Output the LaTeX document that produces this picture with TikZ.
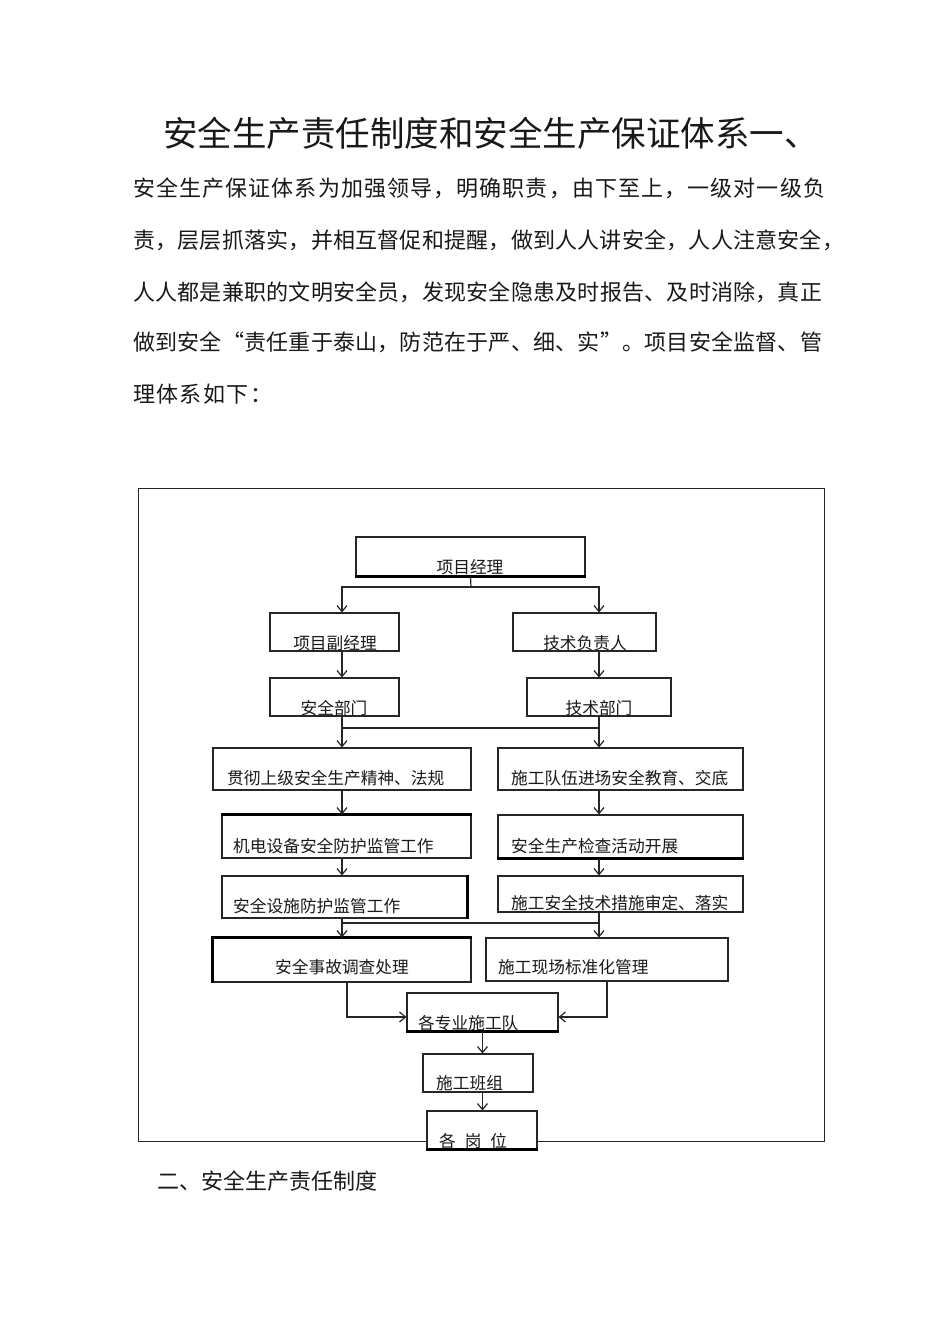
\documentclass[tikz,border=0pt]{standalone}
\usepackage{fontspec}
\setmainfont{Noto Sans CJK SC}
\usetikzlibrary{arrows.meta,calc}
\def\spr#1{\ifx#1\relax\else#1\hfil\expandafter\spr\fi}
\newcommand\bxnode[6][]{\node[box,#1,minimum width={(#5-#3)*1pt},minimum height={(#6-#4)*1pt}] (#2) at ({(#3+#5)/2},{(#4+#6)/2}) {};}
\begin{document}
\begin{tikzpicture}[x=1pt,y=-1pt,
 box/.style={draw=black!85,line width=1.1pt,fill=white,inner sep=0pt},
 lbl/.style={inner sep=0pt,font=\fontsize{16.7}{18}\selectfont,text=black!90},
 body/.style={inner sep=0pt,anchor=west,font=\fontsize{22}{26}\selectfont,text=black!90},
 arr/.style={draw=black!85,line width=1.2pt,-{Straight Barb[length=6pt,width=10pt]}},
 ln/.style={draw=black!85,line width=1.2pt},
 thickside/.style={draw=black,line width=2.2pt}]
\useasboundingbox[fill=white] (0,0) rectangle (950,1344);

% title and paragraph
\node[body,font=\fontsize{34.5}{40}\selectfont] (title) at (163,133) {安全生产责任制度和安全生产保证体系一、};
\node[body] (p1) at (133,188) {\hbox to 692pt{\spr 安全生产保证体系为加强领导，明确职责，由下至上，一级对一级负\relax\unskip}};
\node[body] (p2) at (133,240) {\hbox to 711pt{\spr 责，层层抓落实，并相互督促和提醒，做到人人讲安全，人人注意安全，\relax\unskip}};
\node[body] (p3) at (133,292) {\hbox to 689pt{\spr 人人都是兼职的文明安全员，发现安全隐患及时报告、及时消除，真正\relax\unskip}};
\node[body] (p4) at (133,342) {\hbox to 689pt{\spr 做到安全“责任重于泰山，防范在于严、细、实”。项目安全监督、管\relax\unskip}};
\node[body] (p5) at (133,394) {\hbox to 139pt{\spr 理体系如下：\relax\unskip}};
\node[body] (sec2) at (157,1181) {二、安全生产责任制度};

% frame
\bxnode[fill=none,line width=0.9pt]{frame}{138}{488}{824}{1141}

% boxes
\bxnode{pm}{356}{537}{585}{576}
\bxnode{dpm}{270}{613}{399}{651}
\bxnode{tl}{513}{613}{656}{651}
\bxnode{sd}{270}{678}{399}{716}
\bxnode{td}{527}{678}{671}{716}
\bxnode{L3}{213}{748}{471}{790}
\bxnode{R3}{498}{748}{743}{790}
\bxnode{L4}{222}{815}{471}{858}
\bxnode{R4}{498}{815}{743}{858}
\bxnode{L5}{222}{876}{467}{918}
\bxnode{R5}{498}{876}{743}{912}
\bxnode{L6}{213}{938}{471}{982}
\bxnode{R6}{486}{938}{728}{981}
\bxnode{T}{407}{993}{558}{1031}
\bxnode{G}{423}{1054}{533}{1092}
\bxnode{P}{427}{1111}{537}{1149}

% thicker sides
\draw[thickside] (pm.south west) -- (pm.south east);
\draw[thickside] (L4.north west) -- (L4.north east);
\draw[thickside] (R4.south west) -- (R4.south east);
\draw[thickside] (L5.north east) -- (L5.south east);
\draw[thickside] (L6.south west) -- (L6.north west) -- (L6.north east);
\draw[thickside] (T.south west) -- (T.south east);
\draw[thickside] (P.south west) -- (P.south east);

% labels
\node[lbl] (tpm) at (470,567) {项目经理};
\node[lbl] (tdpm) at (335,643) {项目副经理};
\node[lbl] (ttl) at (585,643) {技术负责人};
\node[lbl] (tsd) at (334,708) {安全部门};
\node[lbl] (ttd) at (599,708) {技术部门};
\node[lbl,anchor=west] (tL3) at (227,778) {贯彻上级安全生产精神、法规};
\node[lbl,anchor=west] (tR3) at (511,778) {施工队伍进场安全教育、交底};
\node[lbl,anchor=west] (tL4) at (233,846) {机电设备安全防护监管工作};
\node[lbl,anchor=west] (tR4) at (511,846) {安全生产检查活动开展};
\node[lbl,anchor=west] (tL5) at (233,906) {安全设施防护监管工作};
\node[lbl,anchor=west] (tR5) at (511,903) {施工安全技术措施审定、落实};
\node[lbl] (tL6) at (342,967) {安全事故调查处理};
\node[lbl,anchor=west] (tR6) at (498,967) {施工现场标准化管理};
\node[lbl,anchor=west] (tT) at (418,1023) {各专业施工队};
\node[lbl,anchor=west] (tG) at (436,1083) {施工班组};
\node[lbl,anchor=west] (tP) at (439,1141) {\hbox to 68pt{\spr 各岗位\relax\unskip}};

% connectors
\coordinate (j1) at (471,587);
\coordinate (m1) at (470,728);
\coordinate (m2) at (470,923);
\draw[ln] (pm.south) -- (j1);
\draw[arr] (j1) -| (dpm.north -| L3);
\draw[arr] (j1) -| (tl.north -| td);
\draw[arr] (dpm.south -| L3) -- (sd.north -| L3);
\draw[arr] (tl.south -| td) -- (td.north);
\draw[arr] (sd.south -| L3) -- (L3.north);
\draw[arr] (td.south) -- (R3.north -| td);
\draw[ln] (m1 -| L3) -- (m1 -| td);
\draw[arr] (L3.south) -- (L4.north -| L3);
\draw[arr] (R3.south -| td) -- (R4.north -| td);
\draw[arr] (L4.south -| L3) -- (L5.north -| L3);
\draw[arr] (R4.south -| td) -- (R5.north -| td);
\draw[arr] (L5.south -| L3) -- (L6.north);
\draw[arr] (R5.south -| td) -- (R6.north -| td);
\draw[ln] (m2 -| L3) -- (m2 -| td);
\draw[arr] ($(L6.south)+(5,0)$) |- ($(T.west)+(0,5)$);
\draw[arr] (R6.south) |- ($(T.east)+(0,5)$);
\draw[arr] (T.south) -- (T.south |- G.north);
\draw[arr] (G.south -| T.south) -- (P.north -| T.south);
\end{tikzpicture}
\end{document}
